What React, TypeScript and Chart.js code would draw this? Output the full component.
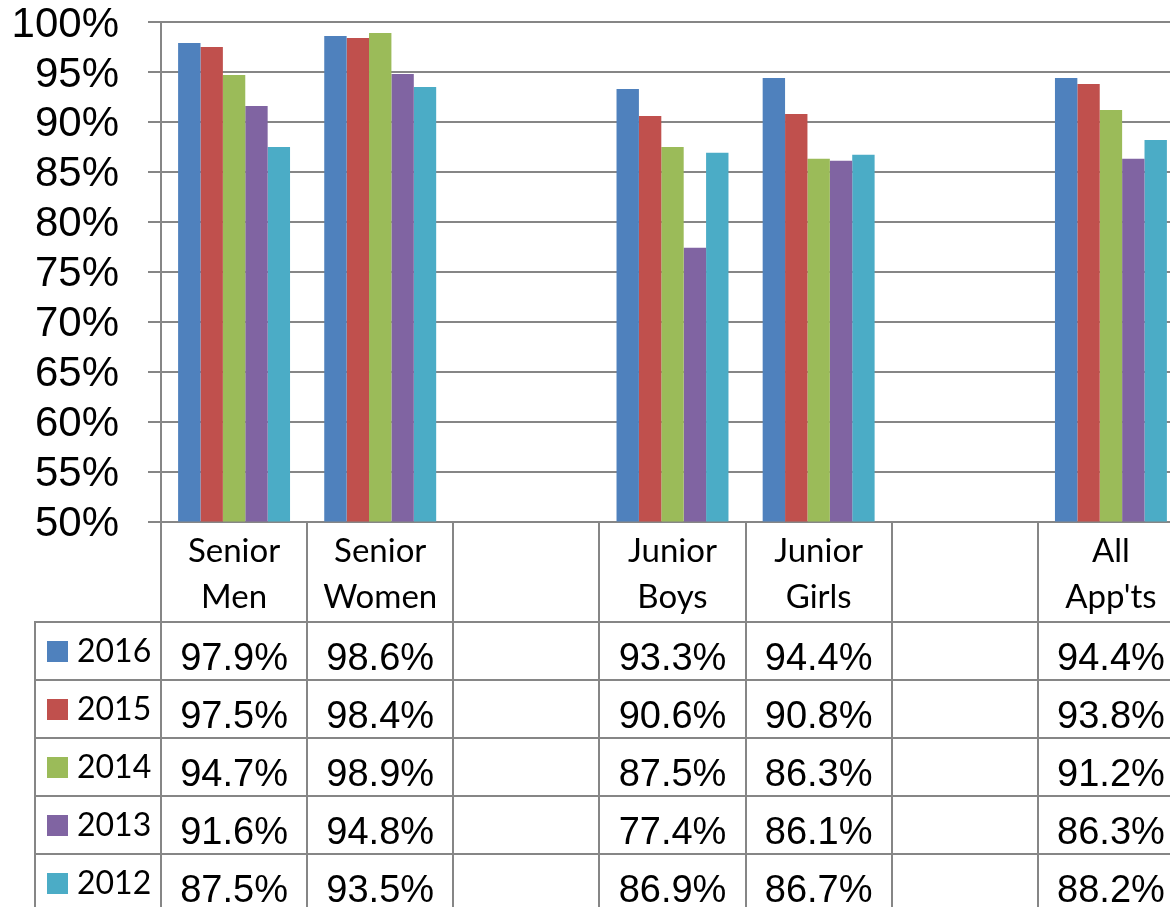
import React, { useEffect, useRef } from "react";
import { Chart, registerables } from "chart.js";

Chart.register(...registerables);

const categories = ["Senior Men", "Senior Women", "", "Junior Boys", "Junior Girls", "", "All App'ts"];
const years = ["2016", "2015", "2014", "2013", "2012"];
const values2016 = [97.9, 98.6, null, 93.3, 94.4, null, 94.4];
const values2015 = [97.5, 98.4, null, 90.6, 90.8, null, 93.8];
const values2014 = [94.7, 98.9, null, 87.5, 86.3, null, 91.2];
const values2013 = [91.6, 94.8, null, 77.4, 86.1, null, 86.3];
const values2012 = [87.5, 93.5, null, 86.9, 86.7, null, 88.2];
const seriesValues = [values2016, values2015, values2014, values2013, values2012];
const seriesColors = ["#4F81BD", "#C0504D", "#9BBB59", "#8064A2", "#4BACC6"];
const yMin = 50;
const yMax = 100;
const yStep = 5;

const GRID = "#868686";
const W = 1184;
const H = 930;
const ARIAL = "'Liberation Sans', Arial, sans-serif";
const LABEL_FONT = "Lato, 'Open Sans', sans-serif";

const tablePlugin = {
  id: "dataTable",
  afterDraw(chart: any) {
    const ctx = chart.ctx as CanvasRenderingContext2D;
    const x = chart.scales.x;
    const area = chart.chartArea;
    const n = categories.length;
    const catW = x.getPixelForValue(1) - x.getPixelForValue(0);
    const first = x.getPixelForValue(0) - catW / 2;
    const bounds: number[] = [];
    for (let i = 0; i <= n; i++) bounds.push(first + i * catW);
    const labelTop = area.bottom;
    const rowsTop = 622;
    const rowH = 58;
    const rows = years.length;
    const tableBottom = rowsTop + rowH * rows;
    const legendLeft = 35;

    ctx.save();
    ctx.strokeStyle = GRID;
    ctx.lineWidth = 2;
    ctx.beginPath();
    for (const b of bounds) {
      const bx = Math.round(b);
      ctx.moveTo(bx, labelTop);
      ctx.lineTo(bx, tableBottom);
    }
    ctx.moveTo(legendLeft, rowsTop - 1);
    ctx.lineTo(legendLeft, tableBottom);
    for (let r = 0; r <= rows; r++) {
      const yy = rowsTop + r * rowH;
      ctx.moveTo(legendLeft - 1, yy);
      ctx.lineTo(chart.width, yy);
    }
    ctx.stroke();

    // category labels
    ctx.fillStyle = "#000";
    ctx.textAlign = "center";
    ctx.textBaseline = "alphabetic";
    ctx.font = `33px ${LABEL_FONT}`;
    categories.forEach((c, i) => {
      if (!c) return;
      const cx = x.getPixelForValue(i);
      const parts = c.split(" ");
      parts.forEach((p, k) => {
        ctx.fillText(p, cx, 562 + k * 46);
      });
    });

    // legend column
    years.forEach((yr, r) => {
      const top = rowsTop + r * rowH;
      ctx.fillStyle = seriesColors[r];
      ctx.fillRect(47, top + 19, 21, 21);
      ctx.fillStyle = "#000";
      ctx.textAlign = "left";
      ctx.font = `32px ${LABEL_FONT}`;
      ctx.fillText(yr, 77, top + 40);
    });

    // values
    ctx.textAlign = "center";
    ctx.font = `38px ${ARIAL}`;
    seriesValues.forEach((vals, r) => {
      const top = rowsTop + r * rowH;
      vals.forEach((v, i) => {
        if (v === null) return;
        ctx.fillText(v.toFixed(1) + "%", x.getPixelForValue(i), top + 47.5);
      });
    });
    ctx.restore();
  },
};

export default function App() {
  const ref = useRef<HTMLCanvasElement>(null);
  useEffect(() => {
    if (!ref.current) return;
    const chart = new Chart(ref.current, {
      type: "bar",
      data: {
        labels: categories,
        datasets: years.map((yr, i) => ({
          label: yr,
          data: seriesValues[i],
          backgroundColor: seriesColors[i],
          borderWidth: 0,
          categoryPercentage: 0.766,
          barPercentage: 1.0,
        })),
      },
      options: {
        animation: false,
        responsive: false,
        devicePixelRatio: 1,
        layout: { padding: { top: 22, bottom: H - 521.5, left: 0, right: 0 } },
        plugins: { legend: { display: false }, tooltip: { enabled: false } },
        scales: {
          x: { display: false },
          y: {
            min: yMin,
            max: yMax,
            ticks: {
              stepSize: yStep,
              autoSkip: false,
              callback: (v: any) => `${v}%`,
              color: "#000",
              font: { family: ARIAL, size: 42, lineHeight: 1 },
              padding: 29,
              labelOffset: 3,
            },
            grid: { color: GRID, lineWidth: 2, tickLength: 13, drawTicks: true },
            border: { display: true, color: GRID, width: 2 },
            afterFit: (scale: any) => {
              scale.width = 161;
              scale.paddingTop = 0;
              scale.paddingBottom = 0;
            },
          },
        },
      },
      plugins: [tablePlugin],
    });
    return () => chart.destroy();
  }, []);
  return (
    <div
      style={{
        position: "absolute",
        left: 0,
        top: 0,
        width: 1170,
        height: 907,
        overflow: "hidden",
        background: "#fff",
      }}
    >
      <canvas ref={ref} width={W} height={H} style={{ display: "block", width: W, height: H }} />
    </div>
  );
}
